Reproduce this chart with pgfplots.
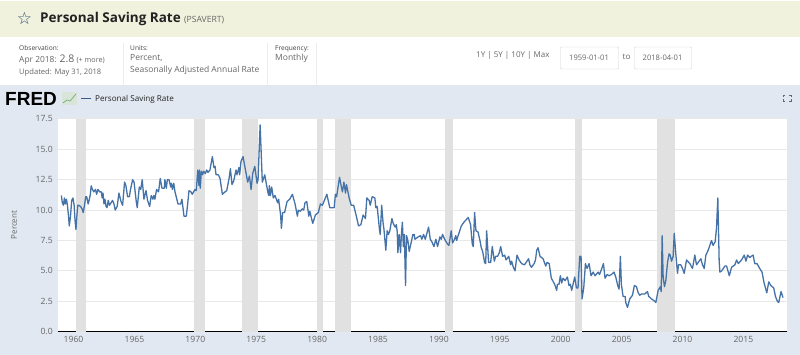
\documentclass[border=0pt]{standalone}
\usepackage{fontspec}
\setmainfont{Open Sans}
\newfontfamily\djv{DejaVu Sans}
\newfontfamily\heavy{Liberation Sans}
\usepackage{pgfplots}
\pgfplotsset{compat=1.18}
\usepackage{pgfplotstable}
\definecolor{band}{HTML}{F1F2DD}
\definecolor{panel}{HTML}{E1E8F1}
\definecolor{lineblue}{HTML}{4572A7}
\definecolor{rec}{HTML}{E1E1E1}
\definecolor{gridc}{HTML}{E8E8E8}
\definecolor{txt}{HTML}{666666}
\definecolor{dtxt}{HTML}{222222}
\pgfplotstableread{
year value
1959.00 11.2
1959.08 10.6
1959.17 10.4
1959.25 11.0
1959.33 10.5
1959.42 10.9
1959.50 10.4
1959.58 9.6
1959.65 8.7
1959.75 9.5
1959.85 10.8
1959.95 11.0
1960.05 10.4
1960.12 9.2
1960.20 8.4
1960.28 9.6
1960.35 10.4
1960.42 10.4
1960.58 10.3
1960.70 10.1
1960.80 9.8
1960.90 10.4
1961.00 11.1
1961.08 11.1
1961.20 10.5
1961.30 10.9
1961.38 11.3
1961.45 12.0
1961.55 11.7
1961.67 11.5
1961.80 11.7
1961.90 11.3
1962.00 11.7
1962.15 11.5
1962.28 11.5
1962.35 11.0
1962.42 11.4
1962.50 10.5
1962.58 10.9
1962.67 10.3
1962.75 10.2
1962.85 10.8
1962.95 10.4
1963.08 10.6
1963.20 10.8
1963.32 10.5
1963.42 10.0
1963.58 10.3
1963.73 11.4
1963.90 10.7
1964.03 10.4
1964.19 12.3
1964.30 12.0
1964.44 11.1
1964.58 11.1
1964.68 11.7
1964.85 12.5
1964.97 12.3
1965.15 10.7
1965.23 10.2
1965.40 11.9
1965.52 11.7
1965.64 12.5
1965.78 10.9
1965.95 11.6
1966.08 10.8
1966.25 10.3
1966.38 11.2
1966.52 10.9
1966.60 11.2
1966.68 10.9
1966.82 11.7
1966.98 11.5
1967.12 12.6
1967.26 11.8
1967.45 11.8
1967.50 12.5
1967.62 11.8
1967.70 12.5
1967.84 12.5
1967.98 11.9
1968.04 12.2
1968.12 11.7
1968.23 12.2
1968.33 11.5
1968.58 10.5
1968.80 10.5
1968.90 10.9
1969.07 9.5
1969.26 9.5
1969.37 10.5
1969.48 11.6
1969.64 11.5
1969.75 11.3
1969.97 11.7
1970.08 11.6
1970.20 13.3
1970.30 12.0
1970.34 13.3
1970.41 11.8
1970.49 13.2
1970.60 12.9
1970.68 13.2
1970.82 13.0
1970.93 13.3
1971.04 13.1
1971.20 13.3
1971.40 14.4
1971.53 13.5
1971.62 13.6
1971.70 12.9
1971.89 12.9
1972.03 12.6
1972.22 11.3
1972.44 11.5
1972.58 11.6
1972.77 12.6
1972.88 13.4
1973.01 12.1
1973.15 12.4
1973.34 13.3
1973.42 12.9
1973.58 13.5
1973.64 12.9
1973.75 14.0
1973.92 14.4
1974.08 13.5
1974.30 12.3
1974.44 12.8
1974.58 11.7
1974.71 13.0
1974.88 13.6
1975.07 12.2
1975.15 12.5
1975.32 17.0
1975.50 12.3
1975.70 12.9
1975.95 11.5
1976.03 11.2
1976.08 12.0
1976.16 11.2
1976.27 11.9
1976.40 11.0
1976.54 11.2
1976.76 10.6
1976.84 10.9
1977.00 9.6
1977.07 8.5
1977.17 9.8
1977.33 9.8
1977.53 10.7
1977.75 10.9
1977.97 11.3
1978.19 10.5
1978.38 9.5
1978.46 10.0
1978.62 9.9
1978.78 10.1
1978.90 10.0
1979.00 10.6
1979.15 10.7
1979.32 9.5
1979.40 9.9
1979.64 8.9
1979.86 9.6
1980.10 9.8
1980.27 10.5
1980.43 10.4
1980.80 11.3
1981.04 10.2
1981.40 10.2
1981.50 11.3
1981.60 11.1
1981.84 12.7
1981.97 12.0
1982.08 11.5
1982.20 12.3
1982.33 11.4
1982.41 12.1
1982.63 11.0
1982.80 10.4
1983.00 10.4
1983.22 9.5
1983.40 8.7
1983.59 8.8
1983.78 9.6
1983.97 9.3
1984.08 11.0
1984.27 10.8
1984.36 10.4
1984.52 11.1
1984.74 11.0
1984.82 10.2
1984.93 10.3
1985.12 8.4
1985.18 8.0
1985.30 10.4
1985.41 9.0
1985.49 8.4
1985.64 6.7
1985.75 8.3
1985.86 8.0
1985.97 8.3
1986.14 9.3
1986.25 8.9
1986.41 8.6
1986.50 8.8
1986.58 8.2
1986.63 6.5
1986.74 8.0
1986.85 6.5
1986.92 8.0
1987.00 9.0
1987.08 7.0
1987.16 8.0
1987.26 3.8
1987.34 7.9
1987.45 7.5
1987.56 6.6
1987.67 7.1
1987.78 7.6
1987.86 8.0
1987.97 8.0
1988.03 7.6
1988.30 7.8
1988.49 7.9
1988.60 7.6
1988.74 8.0
1988.88 7.6
1989.15 8.6
1989.29 7.6
1989.42 7.4
1989.59 7.0
1989.75 7.6
1989.89 7.0
1990.08 7.8
1990.19 7.6
1990.30 8.0
1990.47 7.6
1990.71 7.2
1990.82 7.1
1991.01 8.3
1991.12 7.3
1991.28 7.6
1991.39 7.9
1991.45 7.5
1991.61 8.0
1991.84 8.7
1992.05 9.0
1992.41 9.4
1992.60 8.8
1992.74 7.2
1992.82 7.0
1992.93 9.8
1993.04 8.3
1993.21 8.2
1993.37 7.5
1993.48 6.9
1993.59 6.6
1993.75 5.7
1993.84 5.6
1993.92 8.3
1994.08 5.7
1994.25 5.7
1994.38 7.0
1994.55 5.8
1994.66 6.2
1994.82 6.2
1994.96 6.5
1995.07 7.0
1995.23 6.2
1995.40 6.3
1995.51 5.9
1995.73 6.2
1995.89 5.5
1995.97 5.8
1996.11 5.3
1996.25 5.0
1996.41 6.3
1996.58 5.9
1996.79 5.6
1997.03 5.5
1997.36 6.0
1997.47 5.5
1997.60 5.3
1997.82 5.6
1997.93 5.9
1998.03 6.7
1998.14 6.9
1998.30 6.2
1998.55 6.0
1998.77 5.4
1998.88 5.7
1999.05 5.6
1999.23 4.4
1999.50 3.9
1999.67 3.4
1999.73 3.9
1999.86 3.9
1999.97 4.6
2000.08 4.0
2000.19 4.4
2000.36 4.2
2000.55 4.5
2000.68 3.8
2000.79 3.9
2000.90 3.4
2001.15 4.5
2001.29 3.6
2001.42 3.6
2001.56 6.2
2001.67 6.2
2001.75 2.7
2001.89 3.6
2002.03 5.6
2002.16 5.2
2002.33 5.6
2002.49 4.6
2002.66 4.9
2002.82 4.6
2003.07 4.9
2003.18 4.7
2003.34 5.1
2003.51 5.6
2003.64 4.4
2003.81 4.7
2003.97 4.6
2004.16 4.7
2004.38 4.9
2004.52 4.5
2004.68 3.8
2004.79 3.5
2004.90 6.2
2004.98 3.9
2005.12 2.9
2005.29 2.9
2005.34 2.4
2005.48 2.0
2005.67 2.7
2005.89 3.0
2006.05 3.8
2006.22 3.7
2006.36 3.2
2006.49 3.0
2006.63 3.1
2006.90 3.1
2007.12 3.3
2007.23 2.9
2007.45 2.7
2007.73 2.5
2007.81 2.4
2008.00 3.4
2008.19 3.7
2008.25 3.3
2008.33 7.9
2008.41 4.5
2008.52 3.7
2008.63 4.2
2008.77 5.7
2008.90 6.4
2008.99 6.3
2009.10 5.8
2009.23 6.2
2009.32 8.1
2009.45 6.4
2009.59 4.8
2009.67 5.5
2009.86 5.5
2010.00 5.2
2010.14 4.8
2010.33 5.9
2010.60 5.6
2010.82 5.2
2011.01 6.3
2011.15 5.5
2011.29 5.7
2011.51 6.0
2011.64 5.5
2011.78 5.2
2011.92 6.3
2012.11 6.7
2012.38 7.5
2012.51 7.1
2012.68 7.4
2012.79 8.5
2012.90 11.0
2013.01 5.8
2013.07 4.9
2013.21 5.0
2013.48 5.4
2013.62 5.4
2013.84 4.6
2014.03 5.3
2014.30 5.5
2014.44 5.9
2014.58 5.6
2014.85 5.9
2015.07 6.3
2015.21 5.8
2015.34 6.3
2015.53 6.1
2015.64 6.2
2015.80 6.3
2015.93 5.6
2016.12 5.6
2016.34 5.2
2016.53 4.9
2016.70 4.0
2016.92 3.2
2017.08 4.1
2017.25 3.8
2017.49 3.6
2017.63 2.9
2017.79 2.5
2017.90 2.4
2018.09 3.3
2018.25 2.8
}\saving
\begin{document}
\begin{tikzpicture}
\begin{scope}[x=1pt,y=-1pt]
\path[use as bounding box] (0,0) rectangle (800,355);
\fill[white] (0,0) rectangle (800,355);
\fill[band] (0,1) rectangle (800,37);
\fill[panel] (0,85) rectangle (800,355);
\node[anchor=center,font=\djv\fontsize{17}{17}\selectfont,text=lineblue!70!black] at (24.5,18) {☆};
\node[anchor=base west,inner sep=0,font=\fontsize{13.5}{14}\selectfont\bfseries,text=dtxt] at (40,23) {Personal Saving Rate};
\node[anchor=base west,inner sep=0,font=\fontsize{8.6}{9}\selectfont,text=txt] at (184,23) {(PSAVERT)};
\foreach \dx in {123,267,316} \draw[gray!15] (\dx,43) -- (\dx,85);
\node[anchor=base west,inner sep=0,font=\fontsize{6.6}{7}\selectfont,text=dtxt!85] at (19,51) {Observation:};
\node[anchor=base west,inner sep=0,font=\fontsize{8.4}{8}\selectfont,text=txt] at (19,63) {Apr 2018: {\fontsize{10.5}{9}\selectfont 2.8} {\fontsize{7.2}{8}\selectfont(+ more)}};
\node[anchor=base west,inner sep=0,font=\fontsize{7.6}{8}\selectfont,text=txt] at (19,75) {Updated: May 31, 2018};
\node[anchor=base west,inner sep=0,font=\fontsize{6.6}{7}\selectfont,text=dtxt!85] at (130,51) {Units:};
\node[anchor=base west,inner sep=0,font=\fontsize{8.5}{8}\selectfont,text=txt] at (130,61) {Percent,};
\node[anchor=base west,inner sep=0,font=\fontsize{8.5}{8}\selectfont,text=txt] at (130,73) {Seasonally Adjusted Annual Rate};
\node[anchor=base west,inner sep=0,font=\fontsize{6.6}{7}\selectfont,text=dtxt!85] at (275,51) {Frequency:};
\node[anchor=base west,inner sep=0,font=\fontsize{8.5}{8}\selectfont,text=txt] at (275,61) {Monthly};
\node[anchor=base west,inner sep=0,font=\fontsize{8}{8}\selectfont,text=txt] at (476,58) {1Y | 5Y | 10Y | Max};
\draw[gray!35,rounded corners=1pt,fill=white] (560.5,47) rectangle (618.5,69);
\draw[gray!35,rounded corners=1pt,fill=white] (634.5,47) rectangle (691.5,69);
\node[font=\fontsize{7.6}{8}\selectfont,text=txt] at (589,58) {1959-01-01};
\node[font=\fontsize{7.6}{8}\selectfont,text=txt] at (662.5,58) {2018-04-01};
\node[font=\fontsize{8}{8}\selectfont,text=txt] at (626.5,57) {to};
\node[anchor=base west,inner sep=0,font=\heavy\bfseries\fontsize{19}{18}\selectfont,text=black] at (5,105.5) {FRED};
\fill[green!20!gray!25] (62,92) rectangle (77,105);
\draw[green!45!black!60,line width=0.6pt] (63,103) -- (67,100) -- (70,101) -- (76,94);
\draw[lineblue!80!black,line width=1pt] (81,98.5) -- (91,98.5);
\node[anchor=base west,inner sep=0,font=\fontsize{8.1}{8}\selectfont,text=dtxt] at (95,102) {Personal Saving Rate};
\begin{scope}[gray!80!black,line width=0.7pt]
\draw (783,97) -- (783,95) -- (785,95);
\draw (789,95) -- (791,95) -- (791,97);
\draw (791,99.5) -- (791,101.5) -- (789,101.5);
\draw (785,101.5) -- (783,101.5) -- (783,99.5);
\end{scope}
\node[rotate=90,font=\fontsize{8}{8}\selectfont,text=txt] at (14,225) {Percent};
\end{scope}
\begin{axis}[
  at={(57.7pt,-331.7pt)}, anchor=south west,
  scale only axis, width=729.3pt, height=212.8pt,
  xmin=1958.7, xmax=2018.58, ymin=0, ymax=17.5,
  axis background/.style={fill=white},
  axis y line*=left, axis x line*=bottom,
  y axis line style={draw=none},
  x axis line style={black,line width=1.2pt,-},
  major tick style={draw=none},
  ytick={0,2.5,5,7.5,10,12.5,15,17.5},
  xtick={1960,1965,...,2015},
  ymajorgrids, grid style={gridc,line width=0.8pt},
  tick label style={font=\fontsize{8.6}{9}\selectfont,text=txt},
  x tick label style={/pgf/number format/1000 sep={},yshift=-1.5pt},
  y tick label style={/pgf/number format/fixed,/pgf/number format/fixed zerofill,/pgf/number format/precision=1,xshift=-1.5pt},
  /pgf/number format/assume math mode=true,
  clip=true,
]
\addplot[fill=rec,draw=none] coordinates {(1960.2,0)(1960.2,17.5)(1961.02,17.5)(1961.02,0)} --cycle;
\addplot[fill=rec,draw=none] coordinates {(1969.89,0)(1969.89,17.5)(1970.8,17.5)(1970.8,0)} --cycle;
\addplot[fill=rec,draw=none] coordinates {(1973.84,0)(1973.84,17.5)(1975.16,17.5)(1975.16,0)} --cycle;
\addplot[fill=rec,draw=none] coordinates {(1979.97,0)(1979.97,17.5)(1980.47,17.5)(1980.47,0)} --cycle;
\addplot[fill=rec,draw=none] coordinates {(1981.5,0)(1981.5,17.5)(1982.8,17.5)(1982.8,0)} --cycle;
\addplot[fill=rec,draw=none] coordinates {(1990.47,0)(1990.47,17.5)(1991.12,17.5)(1991.12,0)} --cycle;
\addplot[fill=rec,draw=none] coordinates {(2001.15,0)(2001.15,17.5)(2001.78,17.5)(2001.78,0)} --cycle;
\addplot[fill=rec,draw=none] coordinates {(2007.88,0)(2007.88,17.5)(2009.37,17.5)(2009.37,0)} --cycle;
\addplot[lineblue,line width=1.3pt,line join=round,no markers] table[x=year,y=value] {\saving};
\end{axis}
\end{tikzpicture}
\end{document}
